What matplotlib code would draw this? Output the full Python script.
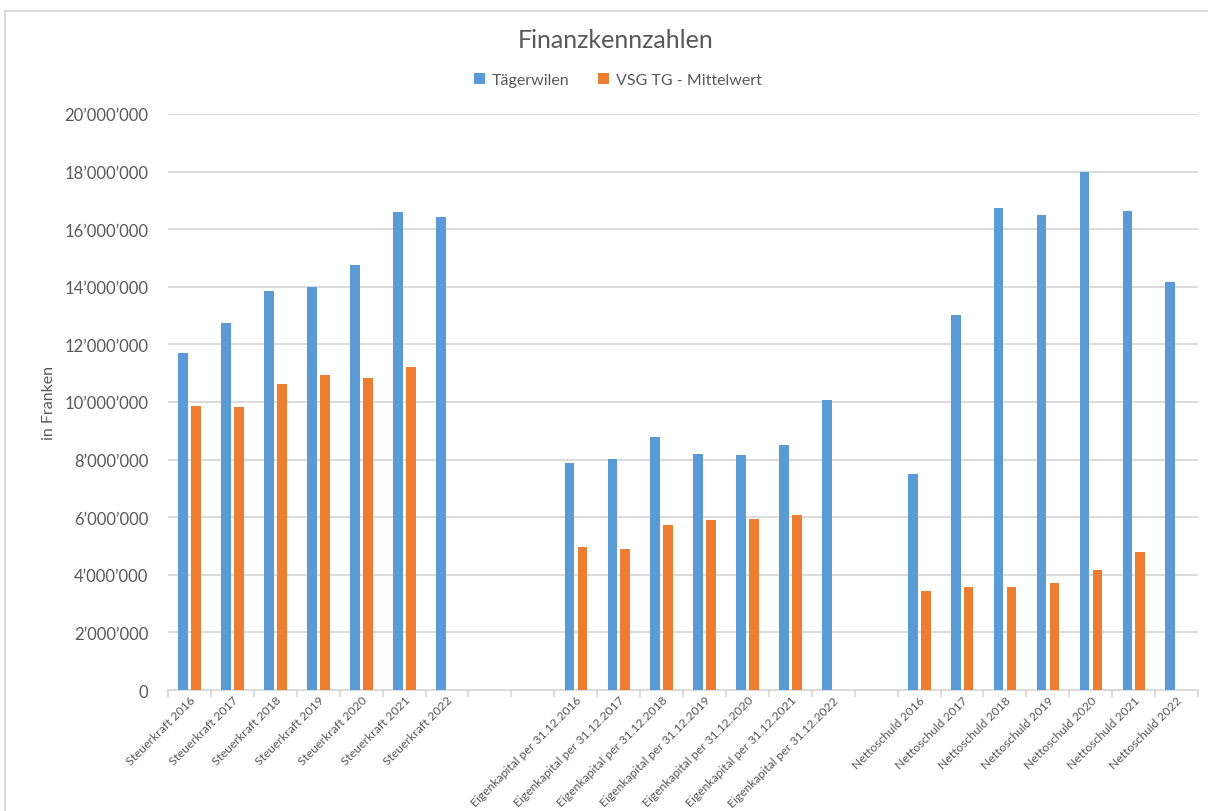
import numpy as np
import matplotlib.pyplot as plt
from matplotlib.ticker import FuncFormatter, FixedLocator
from matplotlib.patches import Rectangle

plt.rcParams['font.family'] = ['Lato', 'DejaVu Sans']

years = ['2016', '2017', '2018', '2019', '2020', '2021', '2022']
steuer_labels = ['Steuerkraft ' + y for y in years]
eigen_labels = ['Eigenkapital per 31.12.' + y for y in years]
netto_labels = ['Nettoschuld ' + y for y in years]

# Tägerwilen (in Mio. Franken)
steuer_tag = [11.70, 12.75, 13.87, 13.98, 14.76, 16.60, 16.42]
eigen_tag = [7.87, 8.01, 8.80, 8.19, 8.16, 8.51, 10.08]
netto_tag = [7.51, 13.03, 16.74, 16.51, 18.00, 16.62, 14.15]

# VSG TG - Mittelwert (in Mio. Franken), 2022 fehlt
steuer_vsg = [9.86, 9.84, 10.61, 10.94, 10.83, 11.20, np.nan]
eigen_vsg = [4.97, 4.89, 5.72, 5.92, 5.95, 6.06, np.nan]
netto_vsg = [3.43, 3.56, 3.59, 3.73, 4.16, 4.78, np.nan]

gap = [''] * 2
gap1 = ['']
labels = steuer_labels + gap + eigen_labels + gap1 + netto_labels
tag = steuer_tag + [np.nan] * 2 + eigen_tag + [np.nan] + netto_tag
vsg = steuer_vsg + [np.nan] * 2 + eigen_vsg + [np.nan] + netto_vsg
tag = np.array(tag) * 1e6
vsg = np.array(vsg) * 1e6

blue = '#5b9bd5'
orange = '#ed7d31'
grey = '#595959'
gridc = '#d9d9d9'

fig = plt.figure(figsize=(12.08, 8.12), dpi=100)
fig.patches.append(Rectangle((5 / 1208, -0.01), 1.0, 1.01 - 12 / 812, transform=fig.transFigure,
                             fill=False, edgecolor='#d9d9d9', linewidth=1.5))
ax = fig.add_axes([168 / 1208, 1 - 691 / 812, (1198 - 168) / 1208, (691 - 115) / 812])

x = np.arange(len(labels))
w = 0.225
ax.bar(x - 0.145, tag, w, color=blue, label='Tägerwilen', zorder=3)
ax.bar(x + 0.155, vsg, w, color=orange, label='VSG TG - Mittelwert', zorder=3)

ax.set_xlim(-0.5, len(labels) - 0.5)
ax.set_ylim(0, 20e6)
ax.set_yticks(np.arange(0, 20e6 + 1, 2e6))
ax.yaxis.set_major_formatter(FuncFormatter(lambda v, p: '0' if v == 0 else f'{int(v):,}'.replace(',', '\u2019')))
ax.grid(axis='y', color=gridc, linewidth=1.3, zorder=0)

ax.set_xticks(x)
ax.set_xticklabels(labels, rotation=45, ha='right', rotation_mode='anchor', fontsize=8.7, color=grey)
ax.xaxis.set_minor_locator(FixedLocator(np.arange(-0.5, len(labels), 1)))
ax.tick_params(axis='x', which='major', length=0, pad=3)
ax.tick_params(axis='x', which='minor', length=5, color=gridc, width=1.3)
ax.tick_params(axis='y', length=0, labelsize=12, labelcolor=grey, pad=14)

for s in ['top', 'right', 'left']:
    ax.spines[s].set_visible(False)
ax.spines['bottom'].set_color(gridc)
ax.spines['bottom'].set_linewidth(1.3)

ax.set_ylabel('in Franken', fontsize=11.5, color=grey, labelpad=6)

fig.text(0.5 + 12 / 1208, 1 - 41 / 812, 'Finanzkennzahlen', ha='center', va='center', fontsize=18, color=grey)
fig.legend(loc='center', bbox_to_anchor=(0.5 + 14 / 1208, 1 - 81 / 812), ncol=2, frameon=False,
           fontsize=11.5, labelcolor=grey, handlelength=0.7, handleheight=0.7, handletextpad=0.4,
           columnspacing=1.8)

fig.savefig('out.png', dpi=100)
